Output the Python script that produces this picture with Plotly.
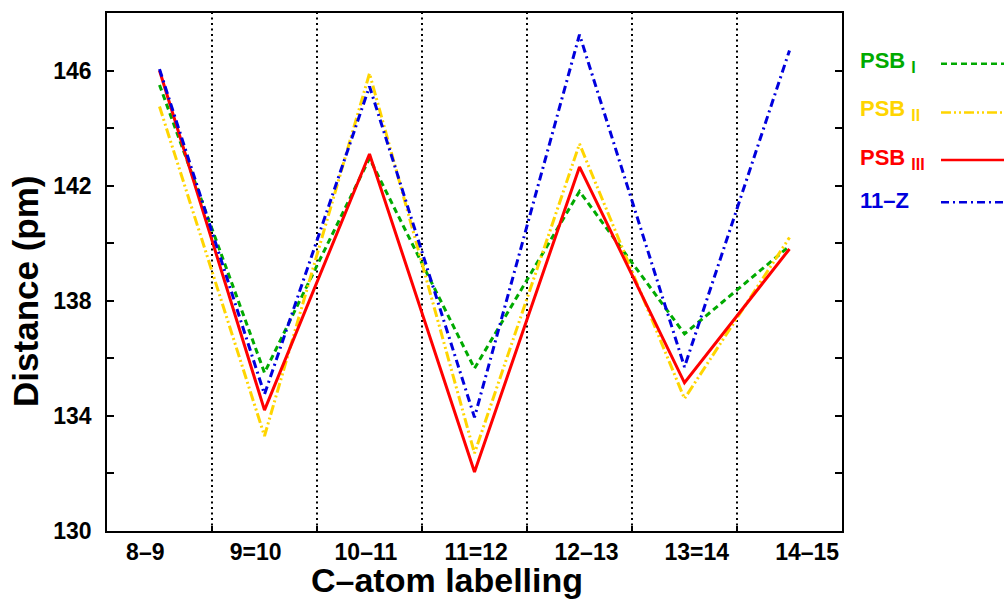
import plotly.graph_objects as go

# Bond labels along the retinal chain
bonds = ["8–9", "9=10", "10–11", "11=12", "12–13", "13=14", "14–15"]

# Bond distances (pm) for each structure
psb_1 = [145.5, 135.5, 142.95, 135.65, 141.8, 136.85, 139.9]
psb_2 = [144.75, 133.3, 145.9, 132.7, 143.45, 134.6, 140.2]
psb_3 = [146.0, 134.2, 143.1, 132.05, 142.65, 135.15, 139.8]
z_11 = [146.05, 134.75, 145.45, 133.95, 147.25, 135.7, 146.7]

series_base = ["PSB", "PSB", "PSB", "11–Z"]
series_sub = ["I", "II", "III", ""]
series_values = [psb_1, psb_2, psb_3, z_11]

y_tick_vals = [130, 132, 134, 136, 138, 140, 142, 144, 146]
y_tick_text = ["130", "", "134", "", "138", "", "142", "", "146"]

colors = ["#00AA00", "#FFD500", "#FF0000", "#0000DD"]
dashes = ["6px,4px", "10px,3px,2px,3px,2px,3px", "solid", "8px,4px,2px,4px"]

FONT = "Liberation Sans, Arial, Helvetica, sans-serif"

W, H = 1006, 609
L, R, T, B = 107, 842, 11, 531  # plot area in pixels


def px(x):
    return (x - L) / (R - L)


def py(y):
    return (B - y) / (B - T)


x_idx = list(range(len(bonds)))

fig = go.Figure()
for vals, col, dash in zip(series_values, colors, dashes):
    fig.add_trace(go.Scatter(
        x=x_idx, y=vals, mode="lines",
        line=dict(color=col, width=3, dash=dash),
        showlegend=False, hoverinfo="skip",
    ))

# carrier trace for the category-label axis
fig.add_trace(go.Scatter(x=x_idx, y=[None] * len(bonds), xaxis="x2",
                         mode="lines", showlegend=False, hoverinfo="skip"))

# dotted separators between neighbouring bonds
mids = [i + 0.5 for i in x_idx[:-1]]
for m in mids:
    fig.add_shape(type="line", xref="x", yref="paper", x0=m, x1=m, y0=0, y1=1,
                  line=dict(color="black", width=2, dash="2px,3.5px"), layer="below")

# legend block: label on the left, line sample on the right
legend_text_y = [60.5, 108.5, 157.5, 199]
legend_line_y = [62, 111, 158.5, 201]
for base, sub, col, dash, ty, ly in zip(series_base, series_sub, colors, dashes,
                                        legend_text_y, legend_line_y):
    label = base
    if sub:
        label += ' <sub><span style="font-size:16px">%s</span></sub>' % sub
    fig.add_annotation(x=px(858), y=py(ty), xref="paper", yref="paper",
                       text=label, showarrow=False, xanchor="left", yanchor="middle",
                       font=dict(family=FONT, size=22, color=col, weight="bold"))
    fig.add_shape(type="line", xref="paper", yref="paper",
                  x0=px(941), x1=px(1004), y0=py(ly), y1=py(ly),
                  line=dict(color=col, width=2.5, dash=dash))

# axis titles
fig.add_annotation(x=px(447), y=py(580), xref="paper", yref="paper",
                   text="C–atom labelling", showarrow=False,
                   xanchor="center", yanchor="middle",
                   font=dict(family=FONT, size=34, color="black", weight="bold"))
fig.add_annotation(x=px(26), y=py(291), xref="paper", yref="paper",
                   text="Distance (pm)", showarrow=False, textangle=-90,
                   xanchor="center", yanchor="middle",
                   font=dict(family=FONT, size=35, color="black", weight="bold"))

fig.update_layout(
    width=W, height=H,
    margin=dict(l=L, r=W - R, t=T, b=H - B, pad=0),
    paper_bgcolor="white", plot_bgcolor="white",
    xaxis=dict(
        range=[-0.5, 6.5], showgrid=False, zeroline=False,
        showline=True, linecolor="black", linewidth=1.5, mirror=True,
        tickvals=mids, ticktext=[""] * len(mids),
        ticks="inside", ticklen=5, tickwidth=1.5, tickcolor="black",
    ),
    xaxis2=dict(
        overlaying="x", anchor="y", side="bottom",
        range=[-0.347, 6.316], showgrid=False, zeroline=False, showline=False,
        tickvals=x_idx, ticktext=bonds, ticks="",
        tickfont=dict(family=FONT, size=23, color="black", weight="bold"),
        ticklabelstandoff=5,
    ),
    yaxis=dict(
        range=[130, 148], showgrid=False, zeroline=False,
        showline=True, linecolor="black", linewidth=1.5, mirror="ticks",
        tickvals=y_tick_vals, ticktext=y_tick_text,
        ticks="inside", ticklen=7, tickwidth=1.5, tickcolor="black",
        tickfont=dict(family=FONT, size=23, color="black", weight="bold"),
        ticklabelstandoff=9,
    ),
)

fig.write_html("out.html")
